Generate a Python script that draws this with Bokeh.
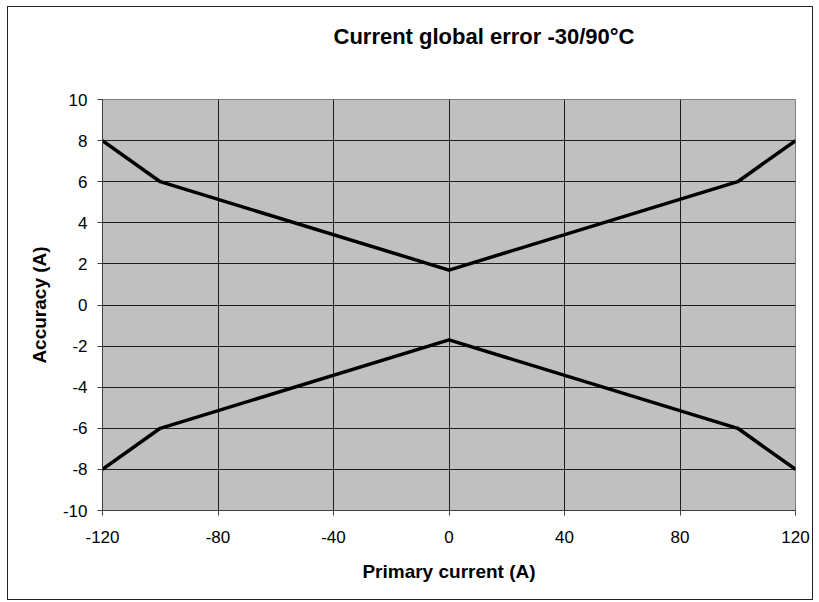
from bokeh.plotting import figure
from bokeh.embed import file_html
from bokeh.resources import INLINE
from bokeh.models import FixedTicker, Title, PrintfTickFormatter, LinearAxis

# data
current = [-120, -100, 0, 100, 120]
upper_error = [8, 6, 1.7, 6, 8]
lower_error = [-8, -6, -1.7, -6, -8]
x_ticks = [-120, -80, -40, 0, 40, 80, 120]
y_ticks = [-10, -8, -6, -4, -2, 0, 2, 4, 6, 8, 10]
title_text = "Current global error -30/90°C"

FONT = "Liberation Sans"

p = figure(width=806, height=594, output_backend="svg", toolbar_location=None,
           x_range=(-120, 120), y_range=(-10, 10),
           min_border_left=94, min_border_right=19, min_border_top=92, min_border_bottom=91)
p.styles = {"border": "1px solid #222222", "margin-left": "7px", "margin-top": "6px"}
p.title = None

xa = p.below[0]
ya = p.left[0]

# invisible spacer axis between frame and title
spacer = LinearAxis(ticker=FixedTicker(ticks=[0]), major_tick_out=46, major_tick_in=0,
                    minor_tick_out=0, minor_tick_in=0, major_label_standoff=0,
                    axis_line_color=None, major_tick_line_color=None,
                    minor_tick_line_color=None, major_label_text_color=None)
p.add_layout(spacer, "above")

t = Title(text=title_text, align="left", offset=231, standoff=10,
          text_font=FONT, text_font_size="22px", text_font_style="bold",
          text_color="black")
p.add_layout(t, "above")

p.background_fill_color = "#c0c0c0"
p.border_fill_color = "white"
p.outline_line_color = "#808080"
p.outline_line_width = 1

xa.ticker = FixedTicker(ticks=x_ticks)
ya.ticker = FixedTicker(ticks=y_ticks)
for ax in (xa, ya):
    ax.formatter = PrintfTickFormatter(format="%d")
    ax.major_tick_out = 5
    ax.major_tick_in = 0
    ax.minor_tick_out = 0
    ax.minor_tick_in = 0
    ax.axis_line_color = "#404040"
    ax.major_tick_line_color = "#404040"
    ax.major_label_text_font = FONT
    ax.major_label_text_font_size = "17px"
    ax.major_label_text_color = "black"
    ax.axis_label_text_font = FONT
    ax.axis_label_text_font_size = "19px"
    ax.axis_label_text_font_style = "bold"
    ax.axis_label_text_color = "black"

xa.axis_label = "Primary current (A)"
ya.axis_label = "Accuracy (A)"
xa.major_label_standoff = 15
ya.major_label_standoff = 10
xa.axis_label_standoff = 15
ya.axis_label_standoff = 10

p.xgrid.grid_line_color = "black"
p.ygrid.grid_line_color = "black"
p.xgrid.grid_line_width = 1
p.ygrid.grid_line_width = 1
p.xgrid.grid_line_alpha = 0.85
p.ygrid.grid_line_alpha = 0.85

p.line(current, upper_error, line_color="black", line_width=3.5)
p.line(current, lower_error, line_color="black", line_width=3.5)

open("out.html", "w").write(file_html(p, INLINE))
